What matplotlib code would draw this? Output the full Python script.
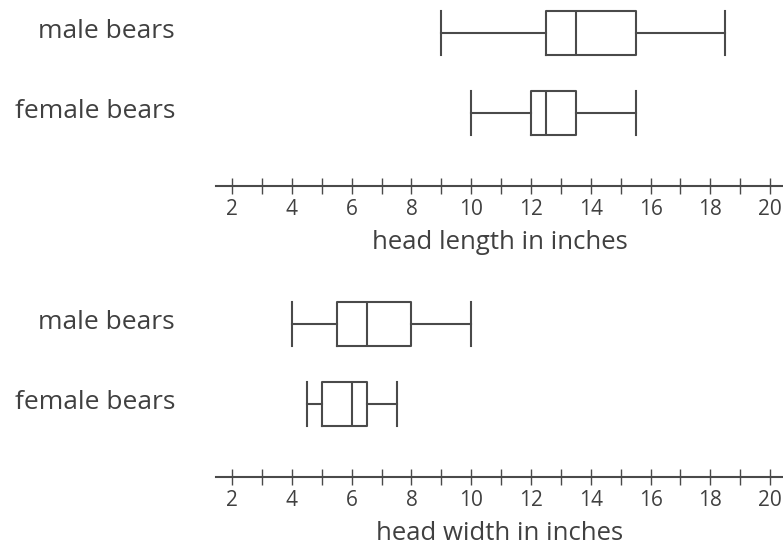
import matplotlib
matplotlib.use("Agg")
import matplotlib.pyplot as plt
import matplotlib.transforms as mtransforms

# five-number summaries (min, q1, median, q3, max)
groups = ["female bears", "male bears"]

length_min = [10, 9]
length_q1 = [12, 12.5]
length_med = [12.5, 13.5]
length_q3 = [13.5, 15.5]
length_max = [15.5, 18.5]

width_min = [4.5, 4]
width_q1 = [5, 5.5]
width_med = [6, 6.5]
width_q3 = [6.5, 8]
width_max = [7.5, 10]

xlabels = ["head length in inches", "head width in inches"]
tick_values = list(range(2, 21))

plt.rcParams['font.family'] = ['Open Sans', 'DejaVu Sans']

W, H = 783, 548
fig = plt.figure(figsize=(W / 100, H / 100), dpi=100)

line_col = "#4a4a4a"
text_col = "#404040"


def make_stats(mins, q1s, meds, q3s, maxs):
    stats = []
    for lo, q1, m, q3, hi in zip(mins, q1s, meds, q3s, maxs):
        stats.append({"whislo": lo, "q1": q1, "med": m, "q3": q3, "whishi": hi, "fliers": []})
    return stats


def draw_panel(top_px, stats, xlabel):
    bottom_px = top_px + 186
    ax = fig.add_axes([216 / W, (H - bottom_px) / H, (W - 216) / W, 186 / H])
    props = dict(color=line_col, linewidth=1.5)
    ax.bxp(stats, positions=[1, 2], widths=0.56, capwidths=0.56,
           orientation="horizontal", showfliers=False,
           boxprops=props, whiskerprops=props, capprops=props,
           medianprops=props)
    ax.set_xlim(1.46, 20.43)
    ax.set_ylim(0.0875, 2.4125)
    for side in ["top", "right", "left"]:
        ax.spines[side].set_visible(False)
    ax.spines["bottom"].set_color(line_col)
    ax.spines["bottom"].set_linewidth(1.5)
    ax.set_xticks(tick_values)
    ax.set_xticklabels([str(v) if v % 2 == 0 else "" for v in tick_values])
    ax.tick_params(axis="x", direction="inout", length=11, width=1.0,
                   color=line_col, labelcolor=text_col, labelsize=15, pad=4)
    ax.set_yticks([1, 2])
    ax.set_yticklabels(groups)
    ax.tick_params(axis="y", left=False, labelsize=19, labelcolor=text_col, pad=26)
    # row labels sit a little above the box centres
    shift = mtransforms.ScaledTranslation(0, 3 / 72, fig.dpi_scale_trans)
    for lab in ax.get_yticklabels():
        lab.set_transform(lab.get_transform() + shift)
    ax.set_xlabel(xlabel, fontsize=18.5, color=text_col, labelpad=7)
    ax.set_facecolor("none")
    return ax


draw_panel(0, make_stats(length_min, length_q1, length_med, length_q3, length_max), xlabels[0])
draw_panel(291, make_stats(width_min, width_q1, width_med, width_q3, width_max), xlabels[1])

fig.savefig("out.png", dpi=100, facecolor="white")
